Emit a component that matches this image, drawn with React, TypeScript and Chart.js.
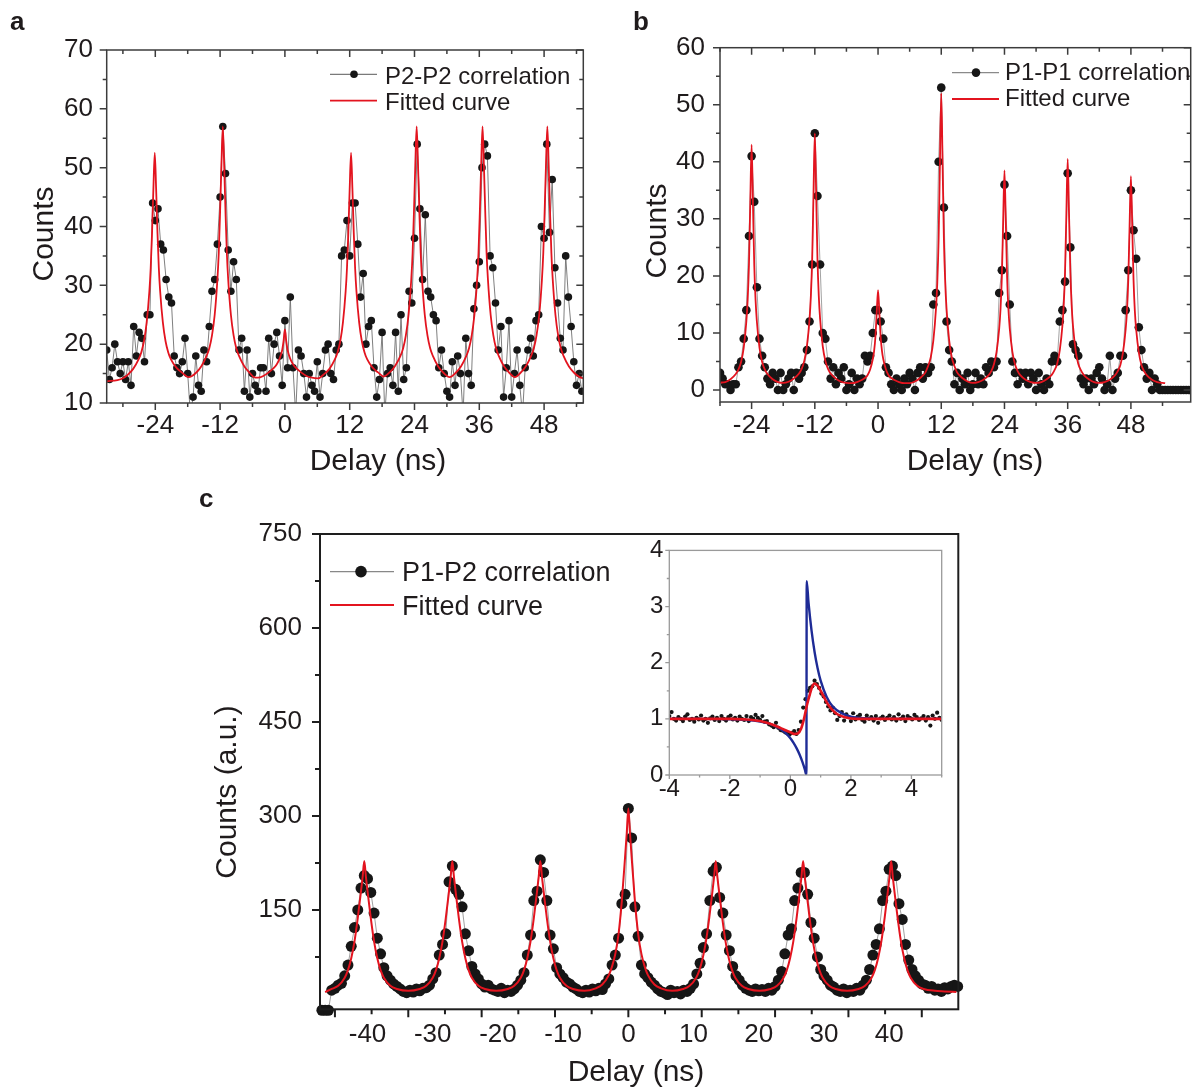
import React, { useEffect, useRef } from 'react';
import { Chart, registerables } from 'chart.js';

Chart.register(...registerables);

const FONT = '"Liberation Sans", Arial, Helvetica, sans-serif';
const TEXT = '#1f1b1c';
const RED = '#e3141f';
const BLUE = '#1e2b96';
const DOT = '#161616';

// ---------------- Panel a : P2-P2 correlation (bins start -33 ns, 0.5 ns wide) ----------------
const A_START = -33;
const A_STEP = 0.5;
const aCounts = [
  19, 14, 16, 20, 17, 15, 17, 14, 17, 13,
  23, 18, 22, 21, 17, 25, 25, 44, 41, 43,
  37, 36, 31, 28, 27, 18, 16, 15, 17, 21,
  15, 8, 11, 18, 13, 12, 19, 17, 23, 29,
  31, 37, 45, 57, 49, 36, 29, 34, 31, 19,
  21, 12, 19, 11, 15, 13, 12, 16, 16, 12,
  21, 15, 20, 22, 18, 13, 24, 16, 28, 16,
  8, 19, 18, 15, 11, 15, 13, 12, 17, 11,
  15, 19, 20, 15, 14, 19, 20, 35, 36, 41,
  35, 44, 44, 37, 28, 32, 20, 23, 24, 16,
  11, 14, 22, 8, 15, 16, 13, 22, 12, 25,
  14, 16, 29, 27, 38, 54, 43, 31, 42, 29,
  28, 25, 24, 16, 19, 15, 12, 11, 17, 13,
  18, 15, 8, 21, 15, 13, 26, 30, 34, 50,
  54, 52, 35, 33, 27, 19, 23, 11, 16, 24,
  11, 15, 19, 13, 8, 16, 19, 21, 18, 24,
  25, 40, 38, 54, 39, 48, 33, 27, 21, 19,
  35, 28, 23, 17, 13, 15, 12,
];
const aFit: number[][] = [
  [-33, 13.7], [-31, 13.9], [-30, 14.2], [-29.1, 14.8], [-28.1, 15.8], [-27.1, 17.4], [-26.6, 18.6], [-26.1, 20.5],
  [-25.6, 23.7], [-25.1, 29], [-24.85, 33], [-24.6, 39], [-24.35, 46.5], [-24.1, 52.5], [-23.85, 46.5], [-23.6, 39],
  [-23.35, 33], [-23.1, 29], [-22.6, 23.7], [-22.1, 20.5], [-21.6, 18.6], [-21.1, 17.4], [-20.1, 16], [-19.1, 15.2], [-17.8, 14.4],
  [-16.5, 15.1], [-15.5, 16.2], [-14.5, 18], [-14, 19.3], [-13.5, 21.5], [-13, 25], [-12.5, 31], [-12.25, 35.5], [-12, 42.5],
  [-11.75, 50.5], [-11.5, 57], [-11.25, 50.5], [-11, 42.5], [-10.75, 35.5], [-10.5, 31], [-10, 25], [-9.5, 21.5], [-9, 19.3],
  [-8.5, 18], [-7.5, 16.2], [-6.5, 15.1], [-5.75, 14.4],
  [-5, 14.3], [-4, 14.6], [-3, 15.2], [-2, 16], [-1.5, 16.6], [-1, 17.5], [-0.5, 19], [-0.25, 20.5], [0, 22.5], [0.25, 20.5],
  [0.5, 19], [1, 17.5], [1.5, 16.6], [2, 16], [3, 15.2], [4, 14.6], [5, 14.3], [6.15, 14.2],
  [7.25, 14.9], [8.25, 15.8], [9.25, 17.4], [9.75, 18.6], [10.25, 20.5], [10.75, 23.7], [11.25, 29], [11.5, 33], [11.75, 39],
  [12, 46.5], [12.25, 52.5], [12.5, 46.5], [12.75, 39], [13, 33], [13.25, 29], [13.75, 23.7], [14.25, 20.5], [14.75, 18.6],
  [15.25, 17.4], [16.25, 16], [17.25, 15.2], [18.3, 14.5],
  [19.4, 15.2], [20.4, 16.3], [21.4, 18], [21.9, 19.3], [22.4, 21.5], [22.9, 25], [23.4, 31], [23.65, 35.5], [23.9, 42.5],
  [24.15, 50.5], [24.4, 57], [24.65, 50.5], [24.9, 42.5], [25.15, 35.5], [25.4, 31], [25.9, 25], [26.4, 21.5], [26.9, 19.3],
  [27.4, 18], [28.4, 16.2], [29.4, 15.1], [30.5, 14.4],
  [31.6, 15.1], [32.6, 16.2], [33.6, 18], [34.1, 19.3], [34.6, 21.5], [35.1, 25], [35.6, 31], [35.85, 35.5], [36.1, 42.5],
  [36.35, 50.5], [36.6, 57], [36.85, 50.5], [37.1, 42.5], [37.35, 35.5], [37.6, 31], [38.1, 25], [38.6, 21.5], [39.1, 19.3],
  [39.6, 18], [40.6, 16.2], [41.6, 15.1], [42.6, 14.4],
  [43.6, 15.1], [44.6, 16.2], [45.6, 18], [46.1, 19.3], [46.6, 21.5], [47.1, 25], [47.6, 31], [47.85, 35.5], [48.1, 42.5],
  [48.35, 50.5], [48.6, 57], [48.85, 50.5], [49.1, 42.5], [49.35, 35.5], [49.6, 31], [50.1, 25], [50.6, 21.5], [51.1, 19.3],
  [51.6, 18], [52.6, 16.2], [53.6, 15.1], [54.6, 14.4], [55.2, 14.2],
];
const aXLabels = [-24, -12, 0, 12, 24, 36, 48];
const aXMinor = [-30, -18, -6, 6, 18, 30, 42, 54];
const aYLabels = [10, 20, 30, 40, 50, 60, 70];
const aYMinor = [15, 25, 35, 45, 55, 65];

// ---------------- Panel b : P1-P1 correlation (bins start -30 ns, 0.5 ns wide) ----------------
const B_START = -30;
const B_STEP = 0.5;
const bCounts = [
  3, 2, 1, 1, 0, 1, 1, 4, 5, 9,
  14, 27, 41, 33, 18, 9, 6, 4, 2, 1,
  3, 2, 0, 3, 0, 1, 2, 3, 0, 3,
  2, 3, 4, 7, 12, 22, 45, 34, 22, 10,
  9, 5, 2, 4, 1, 3, 2, 4, 0, 1,
  3, 0, 2, 1, 2, 6, 5, 6, 10, 14,
  14, 12, 9, 4, 3, 1, 0, 2, 1, 0,
  2, 1, 3, 2, 0, 3, 4, 2, 4, 3,
  4, 15, 17, 40, 53, 32, 12, 7, 5, 1,
  3, 0, 2, 1, 3, 0, 1, 3, 1, 2,
  1, 4, 3, 5, 4, 5, 17, 21, 36, 27,
  15, 5, 3, 1, 3, 2, 3, 1, 3, 2,
  0, 3, 1, 0, 2, 1, 5, 6, 5, 12,
  14, 19, 38, 25, 8, 7, 6, 2, 1, 2,
  0, 2, 1, 3, 4, 2, 0, 1, 6, 0,
  2, 3, 6, 6, 14, 21, 35, 28, 23, 11,
  7, 4, 2, 3, 0, 2, 1, 0, 0, 0,
  0, 0, 0, 0, 0, 0, 0, 0, 0,
];
const bFit: number[][] = [
  [-30, 1.3], [-29, 1.4], [-28, 1.9], [-27, 2.8], [-26.5, 3.6], [-26, 4.9], [-25.5, 7.4], [-25, 12], [-24.75, 15.8],
  [-24.5, 22], [-24.25, 32.9], [-24, 43], [-23.75, 32.9], [-23.5, 22], [-23.25, 15.8], [-23, 12], [-22.5, 7.4], [-22, 4.9],
  [-21.5, 3.6], [-21, 2.8], [-20, 1.9], [-19, 1.4], [-18, 1.25],
  [-17, 1.45], [-16, 2], [-15, 2.9], [-14.5, 3.7], [-14, 5.1], [-13.5, 7.7], [-13, 12.5], [-12.75, 16.5], [-12.5, 23],
  [-12.25, 34.5], [-12, 45], [-11.75, 34.5], [-11.5, 23], [-11.25, 16.5], [-11, 12.5], [-10.5, 7.7], [-10, 5.1], [-9.5, 3.7],
  [-9, 2.9], [-8, 2], [-7, 1.45], [-6, 1.25],
  [-5, 1.2], [-4, 1.4], [-3, 1.8], [-2.5, 2.1], [-2, 2.6], [-1.5, 3.6], [-1, 5.4], [-0.75, 6.8], [-0.5, 9.3], [-0.25, 13.6],
  [0, 17.5], [0.25, 13.6], [0.5, 9.3], [0.75, 6.8], [1, 5.4], [1.5, 3.6], [2, 2.6], [2.5, 2.1], [3, 1.8], [4, 1.4], [5, 1.2], [6, 1.2],
  [7, 1.5], [8, 2.1], [9, 3.1], [9.5, 4.2], [10, 5.7], [10.5, 8.7], [11, 14.3], [11.25, 18.9], [11.5, 26.5], [11.75, 39.8],
  [12, 52], [12.25, 39.8], [12.5, 26.5], [12.75, 18.9], [13, 14.3], [13.5, 8.7], [14, 5.7], [14.5, 4.2], [15, 3.1], [16, 2.1],
  [17, 1.5], [18, 1.25],
  [19, 1.4], [20, 1.8], [21, 2.6], [21.5, 3.3], [22, 4.5], [22.5, 6.7], [23, 10.8], [23.25, 14.2], [23.5, 19.8], [23.75, 29.5],
  [24, 38.5], [24.25, 29.5], [24.5, 19.8], [24.75, 14.2], [25, 10.8], [25.5, 6.7], [26, 4.5], [26.5, 3.3], [27, 2.6], [28, 1.8],
  [29, 1.4], [30, 1.25],
  [31, 1.4], [32, 1.9], [33, 2.7], [33.5, 3.5], [34, 4.6], [34.5, 7], [35, 11.3], [35.25, 14.9], [35.5, 20.8], [35.75, 31],
  [36, 40.5], [36.25, 31], [36.5, 20.8], [36.75, 14.9], [37, 11.3], [37.5, 7], [38, 4.6], [38.5, 3.5], [39, 2.7], [40, 1.9],
  [41, 1.4], [42, 1.25],
  [43, 1.4], [44, 1.8], [45, 2.6], [45.5, 3.3], [46, 4.4], [46.5, 6.6], [47, 10.6], [47.25, 13.8], [47.5, 19.3], [47.75, 28.8],
  [48, 37.5], [48.25, 28.8], [48.5, 19.3], [48.75, 13.8], [49, 10.6], [49.5, 6.6], [50, 4.4], [50.5, 3.3], [51, 2.6], [52, 1.8],
  [53, 1.4], [54.5, 1.2],
];
const bXLabels = [-24, -12, 0, 12, 24, 36, 48];
const bXMinor = [-30, -18, -6, 6, 18, 30, 42, 54];
const bYLabels = [0, 10, 20, 30, 40, 50, 60];
const bYMinor = [5, 15, 25, 35, 45, 55];

// ---------------- Panel c : P1-P2 correlation (bins start -47 ns, 0.5 ns wide) ----------------
const C_START = -47;
const C_STEP = 0.5;
const cCounts = [
  -10, -10, -10, 22, 25, 30, 33, 45, 62, 92,
  122, 150, 185, 205, 200, 178, 145, 105, 80, 58,
  45, 38, 32, 28, 24, 20, 18, 22, 19, 24,
  21, 25, 26, 30, 40, 50, 78, 95, 112, 195,
  220, 183, 175, 155, 112, 85, 60, 48, 40, 32,
  27, 30, 24, 22, 20, 25, 18, 22, 20, 24,
  30, 38, 50, 78, 110, 165, 180, 230, 210, 165,
  110, 88, 58, 48, 42, 35, 32, 27, 24, 20,
  18, 22, 19, 24, 21, 25, 23, 32, 40, 62,
  78, 105, 160, 175, 312, 265, 155, 108, 62, 48,
  42, 35, 30, 24, 20, 18, 15, 22, 18, 20,
  16, 22, 20, 25, 32, 48, 65, 90, 112, 165,
  212, 218, 170, 145, 110, 85, 60, 45, 38, 30,
  25, 22, 20, 24, 21, 23, 20, 25, 22, 28,
  38, 52, 80, 110, 120, 165, 185, 210, 210, 175,
  130, 105, 75, 55, 45, 38, 30, 27, 22, 20,
  24, 18, 22, 20, 25, 22, 30, 38, 55, 78,
  95, 120, 165, 180, 215, 220, 205, 160, 135, 95,
  70, 55, 45, 38, 32, 30, 25, 28, 22, 24,
  20, 26, 24, 28, 30, 28,
];
const cFit: number[][] = [
  [-46.5, 19], [-45.5, 24], [-44.5, 29], [-43.5, 42], [-43, 54], [-42.5, 73], [-42, 100], [-41.5, 137], [-41, 180],
  [-40.75, 203], [-40.5, 228], [-40.25, 203], [-40, 180], [-39.5, 137], [-39, 100], [-38.5, 73], [-38, 54], [-37.5, 42],
  [-36.5, 29], [-35.5, 24], [-33.75, 21],
  [-32, 24], [-31, 29], [-30, 42], [-29.5, 54], [-29, 73], [-28.5, 100], [-28, 137], [-27.5, 180], [-27.25, 203], [-27, 228],
  [-26.75, 203], [-26.5, 180], [-26, 137], [-25.5, 100], [-25, 73], [-24.5, 54], [-24, 42], [-23, 29], [-22, 24], [-20.25, 21],
  [-18.5, 24], [-17.5, 29], [-16.5, 42], [-16, 54], [-15.5, 73], [-15, 100], [-14.5, 137], [-14, 180], [-13.75, 203],
  [-13.5, 228], [-13.25, 203], [-13, 180], [-12.5, 137], [-12, 100], [-11.5, 73], [-11, 54], [-10.5, 42], [-9.5, 29],
  [-8.5, 24], [-6.75, 21],
  [-5, 25], [-4, 31], [-3, 46], [-2.5, 60], [-2, 80], [-1.5, 112], [-1, 165], [-0.5, 235], [-0.25, 272], [0, 312],
  [0.25, 272], [0.5, 235], [1, 165], [1.5, 112], [2, 80], [2.5, 60], [3, 46], [4, 31], [5, 25], [6.7, 21],
  [8.4, 24], [9.4, 29], [10.4, 42], [10.9, 54], [11.4, 73], [11.9, 100], [12.4, 137], [12.9, 180], [13.15, 203], [13.4, 228],
  [13.65, 203], [13.9, 180], [14.4, 137], [14.9, 100], [15.4, 73], [15.9, 54], [16.4, 42], [17.4, 29], [18.4, 24], [20.1, 21],
  [21.8, 24], [22.8, 29], [23.8, 42], [24.3, 54], [24.8, 73], [25.3, 100], [25.8, 137], [26.3, 180], [26.55, 203], [26.8, 228],
  [27.05, 203], [27.3, 180], [27.8, 137], [28.3, 100], [28.8, 73], [29.3, 54], [29.8, 42], [30.8, 29], [31.8, 24], [33.55, 21],
  [35.3, 24], [36.3, 29], [37.3, 42], [37.8, 54], [38.3, 73], [38.8, 100], [39.3, 137], [39.8, 180], [40.05, 203], [40.3, 228],
  [40.55, 203], [40.8, 180], [41.3, 137], [41.8, 100], [42.3, 73], [42.8, 54], [43.3, 42], [44.3, 29], [45.3, 24], [47, 21],
  [48.5, 20], [50.3, 19],
];
const cXLabels = [-40, -30, -20, -10, 0, 10, 20, 30, 40];
const cXMajor = [-45, -33.75, -22.5, -11.25, 0, 11.25, 22.5, 33.75, 45];
const cXMinor = [-39.375, -28.125, -16.875, -5.625, 5.625, 16.875, 28.125, 39.375];
const cYLabels = [150, 300, 450, 600, 750];
const cYMinor = [75, 225, 375, 525, 675];

// ---------------- Inset (bins start -4 ns, 0.075 ns wide) ----------------
const IN_START = -4;
const IN_STEP = 0.075;
const inCounts = [
  1.05, 1.12, 1.0, 0.97, 1.03, 1.0, 0.96, 1.04, 1.08, 0.98, 1.0, 0.95, 1.02, 0.99,
  1.06, 0.97, 1.0, 0.93, 1.01, 1.04, 0.98, 1.02, 0.96, 1.05, 1.0, 0.97, 1.03, 1.06,
  0.99, 1.02, 0.97, 1.04, 1.0, 0.98, 1.05, 0.96, 1.03, 1.0, 1.07, 1.02, 0.98, 1.05,
  0.95, 0.96, 0.9, 0.88, 0.85, 0.93, 0.84, 0.8, 0.79, 0.76, 0.74, 0.72, 0.75, 0.78,
  0.73, 0.8, 0.95, 1.2, 1.35, 1.5, 1.55, 1.58, 1.68, 1.62, 1.55, 1.45, 1.4, 1.3,
  1.22, 1.15, 1.2, 1.1, 0.98, 1.05, 1.12, 0.97, 1.08, 1.03, 0.96, 1.1, 0.99, 1.04,
  1.07, 0.98, 0.95, 1.06, 1.0, 1.03, 0.97, 1.05, 0.93, 1.01, 1.04, 0.98, 1.02, 1.06,
  0.99, 1.03, 0.97, 1.08, 1.0, 1.04, 0.96, 1.05, 1.02, 0.99, 1.07, 1.03, 0.98, 1.01,
  1.05, 0.97, 1.03, 0.88, 1.06, 1.0, 1.11, 1.02, 0.98,
];
const inRedFit: number[][] = [
  [-4, 1], [-3, 1], [-2, 1], [-1.5, 0.99], [-1, 0.96], [-0.6, 0.9], [-0.3, 0.83], [0, 0.76], [0.15, 0.73], [0.25, 0.74],
  [0.35, 0.82], [0.45, 1.0], [0.55, 1.25], [0.65, 1.45], [0.72, 1.57], [0.8, 1.63], [0.9, 1.59], [1.05, 1.45], [1.25, 1.25],
  [1.5, 1.1], [1.8, 1.03], [2.2, 1.0], [3, 1], [4, 1], [5, 1],
];
const inBlueFit: number[][] = [
  [-4, 1], [-3, 1], [-2, 0.994], [-1.5, 0.983], [-1, 0.953], [-0.7, 0.915], [-0.4, 0.844], [-0.2, 0.768], [0, 0.654],
  [0.1, 0.577], [0.2, 0.483], [0.3, 0.369], [0.4, 0.229], [0.48, 0.095], [0.53, 0], [0.54, 3.45], [0.6, 3.07], [0.7, 2.57],
  [0.8, 2.19], [0.9, 1.9], [1.0, 1.68], [1.2, 1.39], [1.4, 1.22], [1.7, 1.1], [2.0, 1.04], [2.5, 1.01], [3, 1], [4, 1], [5, 1],
];
const inXLabels = [-4, -2, 0, 2, 4];
const inXMinor = [-3, -1, 1, 3, 5];
const inYLabels = [0, 1, 2, 3, 4];
const inYMinor = [0.5, 1.5, 2.5, 3.5];

// ---------------- helpers ----------------
type Pt = { x: number; y: number };
const binned = (start: number, step: number, vals: number[]): Pt[] =>
  vals.map((y, i) => ({ x: Math.round((start + i * step) * 1000) / 1000, y }));
const pairs = (arr: number[][]): Pt[] => arr.map(([x, y]) => ({ x, y }));

interface FrameCfg {
  color: string;
  width: number;
  xMajor: number[];
  xMinor: number[];
  yMajor: number[];
  yMinor: number[];
  majorLen: number;
  minorLen: number;
  mirror: boolean;
}

function framePlugin(cfg: FrameCfg) {
  return {
    id: 'frameTicks',
    afterDatasetsDraw(chart: any) {
      const { ctx, chartArea: a, scales } = chart;
      const sx = scales.x;
      const sy = scales.y;
      ctx.save();
      ctx.strokeStyle = cfg.color;
      ctx.lineWidth = cfg.width;
      ctx.strokeRect(a.left, a.top, a.right - a.left, a.bottom - a.top);
      ctx.beginPath();
      const xt = (vals: number[], len: number) => {
        for (const v of vals) {
          const px = sx.getPixelForValue(v);
          if (px < a.left - 0.5 || px > a.right + 0.5) continue;
          ctx.moveTo(px, a.bottom);
          ctx.lineTo(px, a.bottom + len);
          if (cfg.mirror) {
            ctx.moveTo(px, a.top);
            ctx.lineTo(px, a.top + len);
          }
        }
      };
      const yt = (vals: number[], len: number) => {
        for (const v of vals) {
          const py = sy.getPixelForValue(v);
          if (py < a.top - 0.5 || py > a.bottom + 0.5) continue;
          ctx.moveTo(a.left, py);
          ctx.lineTo(a.left - len, py);
          if (cfg.mirror) {
            ctx.moveTo(a.right, py);
            ctx.lineTo(a.right - len, py);
          }
        }
      };
      xt(cfg.xMajor, cfg.majorLen);
      xt(cfg.xMinor, cfg.minorLen);
      yt(cfg.yMajor, cfg.majorLen);
      yt(cfg.yMinor, cfg.minorLen);
      ctx.stroke();
      ctx.restore();
    },
  };
}

interface AxisSpec {
  min: number;
  max: number;
  labels: number[];
  size: number;
  pad: number;
}
interface PanelSpec {
  x: AxisSpec;
  y: AxisSpec;
  layout: { top: number; right: number; bottom: number };
  font: number;
  datasets: any[];
  frame: FrameCfg;
}

function makeChart(canvas: HTMLCanvasElement, s: PanelSpec) {
  const axis = (ax: AxisSpec, horizontal: boolean) => ({
    type: 'linear',
    min: ax.min,
    max: ax.max,
    afterBuildTicks: (sc: any) => {
      sc.ticks = ax.labels.map((v) => ({ value: v }));
    },
    afterFit: (sc: any) => {
      if (horizontal) sc.height = ax.size;
      else sc.width = ax.size;
    },
    grid: { display: false, drawTicks: false },
    border: { display: false },
    ticks: {
      autoSkip: false,
      maxRotation: 0,
      minRotation: 0,
      padding: ax.pad,
      color: TEXT,
      font: { family: FONT, size: s.font },
      callback: (v: any) => String(v),
    },
  });
  return new Chart(canvas, {
    type: 'scatter',
    data: { datasets: s.datasets },
    options: {
      responsive: false,
      animation: false,
      events: [],
      layout: { padding: { left: 0, top: s.layout.top, right: s.layout.right, bottom: s.layout.bottom } },
      plugins: { legend: { display: false }, tooltip: { enabled: false } },
      scales: { x: axis(s.x, true) as any, y: axis(s.y, false) as any },
    },
    plugins: [framePlugin(s.frame)],
  } as any);
}

const fitSet = (pts: Pt[], color: string, width: number) => ({
  data: pts,
  showLine: true,
  borderColor: color,
  borderWidth: width,
  pointRadius: 0,
  cubicInterpolationMode: 'monotone',
});
const dataSet = (pts: Pt[], r: number, line: string, lw: number, extra: any = {}) => ({
  data: pts,
  showLine: lw > 0,
  borderColor: line,
  borderWidth: lw,
  pointRadius: r,
  pointBackgroundColor: DOT,
  pointBorderWidth: 0,
  tension: 0,
  ...extra,
});

// ---------------- DOM text helpers ----------------
const Txt = ({ x, base, size, children, mid = false, bold = false }: any) => (
  <div
    style={{
      position: 'absolute',
      left: x,
      top: base - 0.847 * size,
      fontSize: size,
      lineHeight: `${size}px`,
      whiteSpace: 'nowrap',
      fontWeight: bold ? 700 : 400,
      transform: mid ? 'translateX(-50%)' : undefined,
    }}
  >
    {children}
  </div>
);
const VTxt = ({ cx, cy, size, children }: any) => (
  <div
    style={{
      position: 'absolute',
      left: cx,
      top: cy,
      fontSize: size,
      lineHeight: `${size}px`,
      whiteSpace: 'nowrap',
      transform: 'translate(-50%, -50%) rotate(-90deg)',
    }}
  >
    {children}
  </div>
);

export default function App() {
  const ra = useRef<HTMLCanvasElement>(null);
  const rb = useRef<HTMLCanvasElement>(null);
  const rc = useRef<HTMLCanvasElement>(null);
  const ri = useRef<HTMLCanvasElement>(null);

  useEffect(() => {
    const charts: Chart[] = [];
    charts.push(
      makeChart(ra.current!, {
        x: { min: -33.0, max: 55.26, labels: aXLabels, size: 60, pad: 7.5 },
        y: { min: 10, max: 70, labels: aYLabels, size: 106.7, pad: 13.7 },
        layout: { top: 50, right: 16.7, bottom: 17 },
        font: 26,
        datasets: [
          fitSet(pairs(aFit), RED, 1.8),
          dataSet(binned(A_START, A_STEP, aCounts), 3.8, '#707070', 0.9),
        ],
        frame: {
          color: '#3c3c3c', width: 1.5, xMajor: aXLabels, xMinor: aXMinor, yMajor: aYLabels, yMinor: aYMinor,
          majorLen: 7, minorLen: 4, mirror: true,
        },
      })
    );
    charts.push(
      makeChart(rb.current!, {
        x: { min: -30.0, max: 59.35, labels: bXLabels, size: 60, pad: 8.5 },
        y: { min: -2.1, max: 60, labels: bYLabels, size: 120, pad: 15 },
        layout: { top: 47.7, right: 3.3, bottom: 18 },
        font: 26,
        datasets: [
          fitSet(pairs(bFit), RED, 1.8),
          dataSet(binned(B_START, B_STEP, bCounts), 4.3, '#8a8a8a', 0.8),
        ],
        frame: {
          color: '#3c3c3c', width: 1.5, xMajor: bXLabels, xMinor: bXMinor, yMajor: bYLabels, yMinor: bYMinor,
          majorLen: 7, minorLen: 4, mirror: true,
        },
      })
    );
    charts.push(
      makeChart(rc.current!, {
        x: { min: -47.29, max: 50.6, labels: cXLabels, size: 60, pad: 10 },
        y: { min: -8.5, max: 750, labels: cYLabels, size: 130, pad: 18 },
        layout: { top: 54, right: 31.7, bottom: 18.7 },
        font: 26,
        datasets: [
          fitSet(pairs(cFit), RED, 2),
          dataSet(binned(C_START, C_STEP, cCounts), 5.5, '#888888', 0.8, { clip: false }),
        ],
        frame: {
          color: '#1e1e1e', width: 2, xMajor: cXMajor, xMinor: cXMinor, yMajor: cYLabels, yMinor: cYMinor,
          majorLen: 8, minorLen: 5, mirror: false,
        },
      })
    );
    charts.push(
      makeChart(ri.current!, {
        x: { min: -4, max: 5, labels: inXLabels, size: 30, pad: 0 },
        y: { min: 0, max: 4, labels: inYLabels, size: 59.3, pad: 6 },
        layout: { top: 20, right: 18.3, bottom: 5 },
        font: 24,
        datasets: [
          fitSet(pairs(inRedFit), RED, 2.6),
          fitSet(pairs(inBlueFit), BLUE, 2.4),
          dataSet(binned(IN_START, IN_STEP, inCounts), 2.1, '#000', 0),
        ],
        frame: {
          color: '#9a9a9a', width: 1.3, xMajor: inXLabels, xMinor: inXMinor, yMajor: inYLabels, yMinor: inYMinor,
          majorLen: 4, minorLen: 2.5, mirror: false,
        },
      })
    );
    return () => charts.forEach((c) => c.destroy());
  }, []);

  const cv = (ref: any, left: number, top: number, w: number, h: number) => (
    <canvas ref={ref} width={w} height={h} style={{ position: 'absolute', left, top, width: w, height: h }} />
  );

  return (
    <div
      style={{
        position: 'absolute',
        left: 0,
        top: 0,
        width: 1195,
        height: 1088,
        overflow: 'hidden',
        background: '#fff',
        fontFamily: FONT,
        color: TEXT,
      }}
    >
      {cv(ra, 0, 0, 600, 480)}
      {cv(rb, 600, 0, 595, 480)}
      {cv(rc, 190, 480, 800, 608)}
      {cv(ri, 610, 530, 350, 280)}

      <svg width={1195} height={1088} style={{ position: 'absolute', left: 0, top: 0, pointerEvents: 'none' }}>
        <line x1={330} y1={74.3} x2={377} y2={74.3} stroke="#7a7a7a" strokeWidth={1.2} />
        <circle cx={354} cy={74.3} r={3.8} fill={DOT} />
        <line x1={330} y1={100.7} x2={377} y2={100.7} stroke={RED} strokeWidth={1.8} />

        <line x1={952} y1={72.6} x2={999} y2={72.6} stroke="#8a8a8a" strokeWidth={1.2} />
        <circle cx={976} cy={72.6} r={4.3} fill={DOT} />
        <line x1={952} y1={99} x2={999} y2={99} stroke={RED} strokeWidth={1.8} />

        <line x1={330} y1={571.6} x2={394} y2={571.6} stroke="#888" strokeWidth={1.2} />
        <circle cx={361} cy={571.6} r={5.8} fill={DOT} />
        <line x1={330} y1={605} x2={394} y2={605} stroke={RED} strokeWidth={2.2} />
      </svg>

      <Txt x={10} base={30} size={26} bold>a</Txt>
      <Txt x={633} base={30} size={26} bold>b</Txt>
      <Txt x={199} base={507} size={26} bold>c</Txt>

      <Txt x={385} base={84} size={24}>P2-P2 correlation</Txt>
      <Txt x={385} base={110} size={24}>Fitted curve</Txt>
      <Txt x={1005} base={80.5} size={24}>P1-P1 correlation</Txt>
      <Txt x={1005} base={106.5} size={24}>Fitted curve</Txt>
      <Txt x={402} base={582} size={27}>P1-P2 correlation</Txt>
      <Txt x={402} base={616} size={27}>Fitted curve</Txt>

      <VTxt cx={43} cy={234} size={30}>Counts</VTxt>
      <Txt x={378} base={470} size={30} mid>Delay (ns)</Txt>
      <VTxt cx={656} cy={231} size={30}>Counts</VTxt>
      <Txt x={975} base={470} size={30} mid>Delay (ns)</Txt>
      <VTxt cx={225.5} cy={792} size={30}>Counts (a.u.)</VTxt>
      <Txt x={636} base={1081} size={30} mid>Delay (ns)</Txt>
    </div>
  );
}
